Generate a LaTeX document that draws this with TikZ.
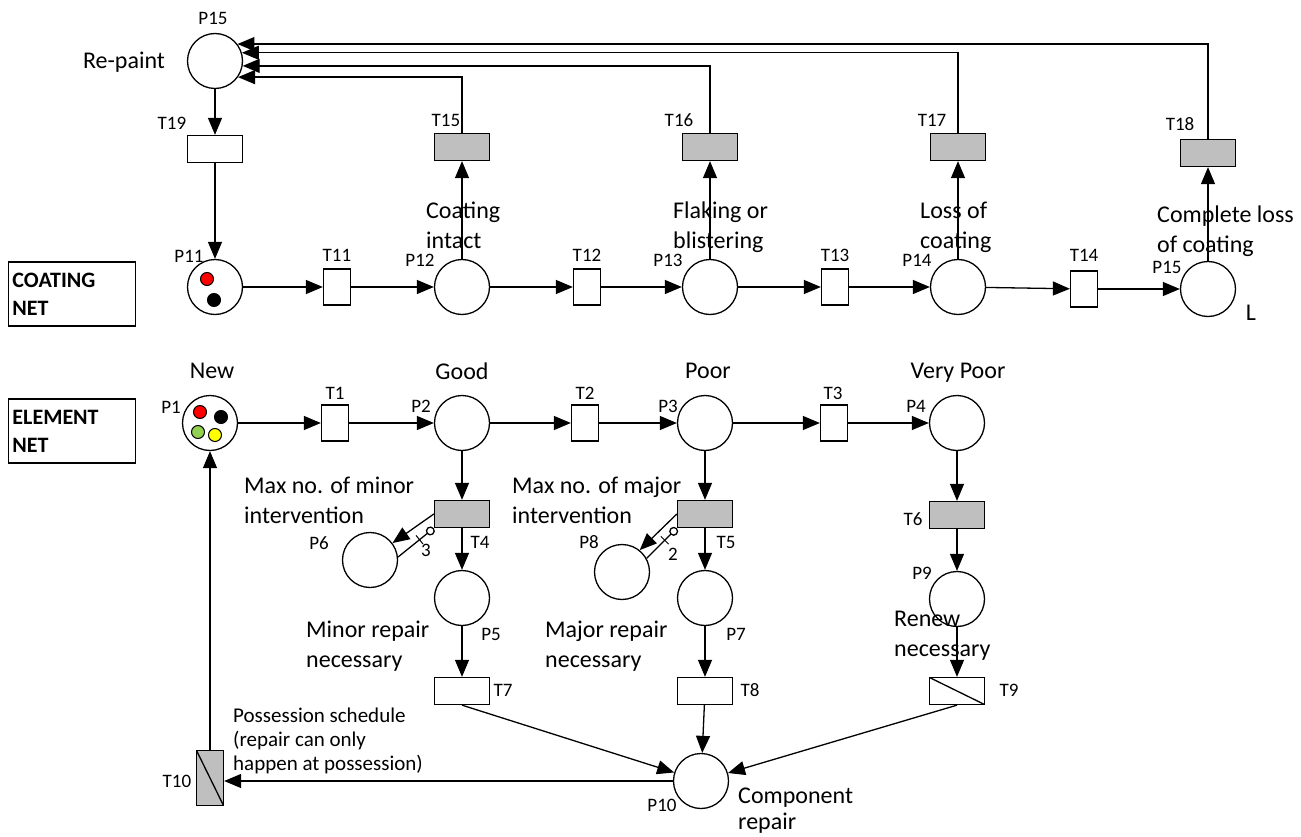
\documentclass[tikz,border=0pt]{standalone}
\usepackage{fontspec}
\setmainfont{Carlito}
\usetikzlibrary{arrows.meta}

\definecolor{tgray}{HTML}{BFBFBF}
\definecolor{tgreen}{HTML}{92D050}
\definecolor{tyellow}{HTML}{FFFF00}

\tikzset{
  place/.style={circle, draw, line width=1.3pt, minimum size=55pt, inner sep=0pt},
  trans/.style={rectangle, draw, line width=1.3pt, minimum width=55pt, minimum height=27pt, inner sep=0pt},
  vtrans/.style={rectangle, draw, line width=1.3pt, minimum width=27pt, minimum height=36pt, inner sep=0pt},
  ltrans/.style={rectangle, draw, line width=1.3pt, minimum width=27pt, minimum height=55pt, inner sep=0pt},
  timed/.style={fill=tgray},
  slash/.style={path picture={\draw[line width=1.3pt] (path picture bounding box.north west) -- (path picture bounding box.south east);}},
  arc/.style={line width=1.3pt, -{Triangle[length=17pt,width=14pt]}},
  inhib/.style={line width=1.3pt, -{Circle[open,length=9pt,line width=1.3pt]}},
  tok/.style={circle, draw, line width=1pt, minimum size=13pt, inner sep=0pt},
  tick/.style={draw, line width=1pt, inner sep=0pt, minimum width=0pt, minimum height=11pt},
  lbl/.style={font=\fontsize{19}{22}\selectfont, inner sep=0pt},
  txt/.style={font=\fontsize{24}{30}\selectfont, inner sep=0pt, align=left},
  note/.style={font=\fontsize{21}{24}\selectfont, inner sep=0pt, align=left},
  netbox/.style={draw, line width=1.3pt, minimum width=127pt, minimum height=64pt, inner xsep=4pt, text width=119pt, align=left, font=\bfseries\fontsize{22}{28}\selectfont}
}

\begin{document}
\begin{tikzpicture}[x=1pt,y=-1pt]
\useasboundingbox (0,0) rectangle (1301,837);

\node[netbox] (cnet) at (72,294) {COATING\\NET};
\node[netbox] (enet) at (72,431) {ELEMENT\\NET};

\node[place] (P15a) at (215,61) {};
\node[trans] (T19) at (215,149) {};
\node[place] (P11) at (215,287) {};
\node[vtrans] (T11) at (337,287) {};
\node[place] (P12) at (462,287) {};
\node[vtrans] (T12) at (587,287) {};
\node[place] (P13) at (710,287) {};
\node[vtrans] (T13) at (835,287) {};
\node[place] (P14) at (958,287) {};
\node[vtrans] (T14) at (1084,289) {};
\node[place] (P15b) at (1208,289) {};
\node[trans,timed] (T15) at (462,147) {};
\node[trans,timed] (T16) at (710,147) {};
\node[trans,timed] (T17) at (958,147) {};
\node[trans,timed] (T18) at (1208,153) {};

\node[tok, fill=red] (k1) at (207,279) {};
\node[tok, fill=black] (k2) at (214,300) {};

\node[lbl] (lP15a) at (213,18) {P15};
\node[txt] (lrep) at (124,62) {Re-paint};
\node[lbl] (lT19) at (172,123) {T19};
\node[lbl] (lP11) at (189,256) {P11};
\node[lbl] (lT11) at (337,255) {T11};
\node[lbl] (lP12) at (420,260) {P12};
\node[lbl] (lT12) at (587,255) {T12};
\node[lbl] (lP13) at (668,260) {P13};
\node[lbl] (lT13) at (835,255) {T13};
\node[lbl] (lP14) at (917,260) {P14};
\node[lbl] (lT14) at (1084,255) {T14};
\node[lbl] (lP15b) at (1167,267) {P15};
\node[txt] (lL) at (1251,313) {L};
\node[lbl] (lT15) at (446,120) {T15};
\node[lbl] (lT16) at (679,120) {T16};
\node[lbl] (lT17) at (932,120) {T17};
\node[lbl] (lT18) at (1180,124) {T18};
\node[txt, anchor=base west] (s12) at (426,248) {Coating\\intact};
\node[txt, anchor=base west] (s13) at (673,248) {Flaking or\\blistering};
\node[txt, anchor=base west] (s14) at (920,248) {Loss of\\coating};
\node[txt, anchor=base west] (s15) at (1157,252) {Complete loss\\of coating};

\draw[arc] (P15a) -- (T19);
\draw[arc] (T19) -- (P11);
\draw[arc] (P11) -- (T11);
\draw[arc] (T11) -- (P12);
\draw[arc] (P12) -- (T12);
\draw[arc] (T12) -- (P13);
\draw[arc] (P13) -- (T13);
\draw[arc] (T13) -- (P14);
\draw[arc] (P14) -- (T14);
\draw[arc] (T14) -- (P15b);
\draw[arc] (P12) -- (T15);
\draw[arc] (P13) -- (T16);
\draw[arc] (P14) -- (T17);
\draw[arc] (P15b) -- (T18);
\draw[arc] (T15.north) |- (P15a.-35);
\draw[arc] (T16.north) |- (P15a.-10);
\draw[arc] (T17.north) |- (P15a.17);
\draw[arc] (T18.north) |- (P15a.37);

\node[place] (P1) at (210,423) {};
\node[vtrans] (T1) at (335,423) {};
\node[place] (P2) at (462,423) {};
\node[vtrans] (T2) at (585,423) {};
\node[place] (P3) at (705,423) {};
\node[vtrans] (T3) at (834,423) {};
\node[place] (P4) at (957,423) {};
\node[trans,timed] (T4) at (462,514) {};
\node[trans,timed] (T5) at (705,514) {};
\node[trans,timed] (T6) at (957,515) {};
\node[place] (P6) at (370,560) {};
\node[place] (P8) at (622,572) {};
\node[place] (P5) at (462,598) {};
\node[place] (P7) at (705,598) {};
\node[place] (P9) at (957,599) {};
\node[trans] (T7) at (462,691) {};
\node[trans] (T8) at (705,691) {};
\node[trans,slash] (T9) at (957,691) {};
\node[place] (P10) at (701,781) {};
\node[ltrans,timed,slash] (T10) at (210,778) {};

\node[tok, fill=red] (k3) at (200,412) {};
\node[tok, fill=black] (k4) at (221,417) {};
\node[tok, fill=tgreen] (k5) at (198,432) {};
\node[tok, fill=tyellow] (k6) at (215,435) {};

\node[txt] (lnew) at (212,371) {New};
\node[txt] (lgood) at (462,371) {Good};
\node[txt] (lpoor) at (708,371) {Poor};
\node[txt] (lvpoor) at (958,373) {Very Poor};
\node[lbl] (lP1) at (171,407) {P1};
\node[lbl] (lT1) at (335,393) {T1};
\node[lbl] (lP2) at (421,406) {P2};
\node[lbl] (lT2) at (585,393) {T2};
\node[lbl] (lP3) at (668,406) {P3};
\node[lbl] (lT3) at (833,393) {T3};
\node[lbl] (lP4) at (916,406) {P4};
\node[txt, anchor=base west] (smin) at (244,523) {Max no. of minor\\intervention};
\node[txt, anchor=base west] (smaj) at (512,523) {Max no. of major\\intervention};
\node[lbl] (lT4) at (480,542) {T4};
\node[lbl] (lT5) at (726,542) {T5};
\node[lbl] (lT6) at (913,519) {T6};
\node[lbl] (lP6) at (319,543) {P6};
\node[lbl] (lP8) at (589,542) {P8};
\node[lbl] (lP9) at (922,573) {P9};
\node[lbl] (lP5) at (491,634) {P5};
\node[lbl] (lP7) at (736,634) {P7};
\node[txt, anchor=base west] (s5) at (306,667) {Minor repair\\necessary};
\node[txt, anchor=base west] (s7) at (545,667) {Major repair\\necessary};
\node[txt, anchor=base west] (s9) at (894,656) {Renew\\necessary};
\node[lbl] (lT7) at (503,690) {T7};
\node[lbl] (lT8) at (750,690) {T8};
\node[lbl] (lT9) at (1009,690) {T9};
\node[lbl] (lT10) at (177,781) {T10};
\node[lbl] (lP10) at (662,805) {P10};
\node[note, anchor=base west] (spos) at (233,770) {Possession schedule\\(repair can only\\happen at possession)};
\node[txt, font=\fontsize{24}{26}\selectfont, anchor=base west] (s10) at (738,829) {Component\\repair};

\draw[arc] (P1) -- (T1);
\draw[arc] (T1) -- (P2);
\draw[arc] (P2) -- (T2);
\draw[arc] (T2) -- (P3);
\draw[arc] (P3) -- (T3);
\draw[arc] (T3) -- (P4);
\draw[arc] (P2) -- (T4);
\draw[arc] (P3) -- (T5);
\draw[arc] (P4) -- (T6);
\draw[arc] (T4) -- (P5);
\draw[arc] (T5) -- (P7);
\draw[arc] (T6) -- (P9);
\draw[arc] (P5) -- (T7);
\draw[arc] (P7) -- (T8);
\draw[arc] (P9) -- (T9);
\draw[arc] (T7.south) -- (P10);
\draw[arc] (T8) -- (P10);
\draw[arc] (T9.south) -- (P10);
\draw[arc] (P10.west) -- (P10.west -| T10.east);
\draw[arc] (T10) -- (P1);
\draw[arc] (T4.west) -- (P6.37);
\draw[inhib] (P6.6) -- node[tick, sloped, pos=0.6] (w4) {} (T4.south west);
\node[lbl] (n4) at (426,550) {3};
\draw[arc] (T5.west) -- (P8.51);
\draw[inhib] (P8.29) -- node[tick, sloped, pos=0.6] (w5) {} (T5.south west);
\node[lbl] (n5) at (673,554) {2};
\end{tikzpicture}
\end{document}
